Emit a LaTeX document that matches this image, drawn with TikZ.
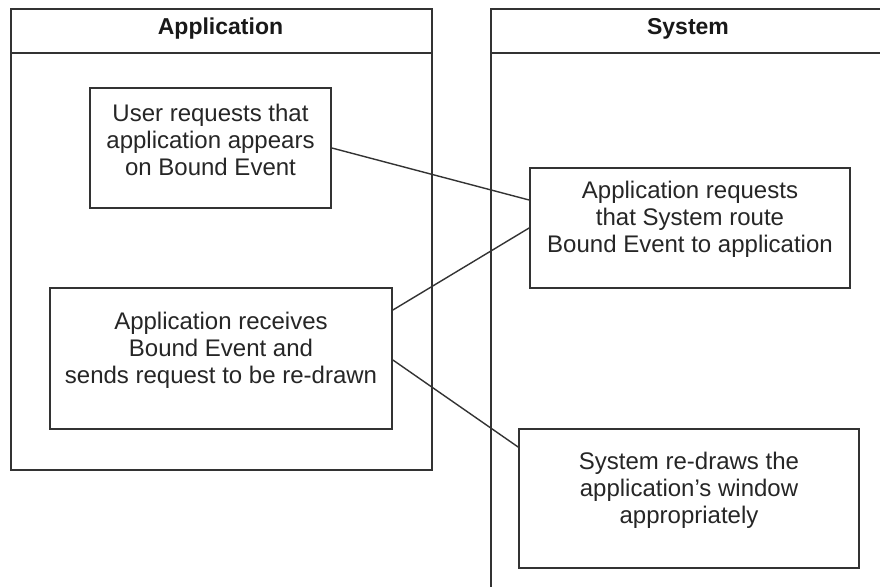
\documentclass[tikz,border=0pt]{standalone}
\usepackage{fontspec}
\setmainfont{Liberation Sans}
\begin{document}
\begin{tikzpicture}[x=1pt,y=-1pt,
  lane/.style={draw=black!80,line width=1.8pt,rectangle,inner sep=0pt,anchor=north west},
  lanetitle/.style={font=\fontsize{23}{27}\selectfont\bfseries,text=black!90},
  task/.style={draw=black!80,line width=1.8pt,rectangle,inner sep=0pt},
  tasktext/.style={font=\fontsize{24}{27}\selectfont,text=black!85,align=center,inner sep=0pt},
  link/.style={draw=black!80,line width=1.4pt}]
\useasboundingbox (0,0) rectangle (880,586);
\fill[white] (0,0) rectangle (880,586);
\clip (0,0) rectangle (880,586);

% swimlanes
\node[lane,minimum width=421pt,minimum height=461pt] (app) at (10,8) {};
\draw[link,line width=1.8pt] (app.west |- 0,53) -- (app.east |- 0,53);
\node[lanetitle] (apptitle) at (220.5,28.5) {Application};

\node[lane,minimum width=396pt,minimum height=620pt] (sys) at (490,8) {};
\draw[link,line width=1.8pt] (sys.west |- 0,53) -- (sys.east |- 0,53);
\node[lanetitle] (systitle) at (688,28.5) {System};

% activities
\node[task,minimum width=241pt,minimum height=120pt] (u1) at (210.5,148) {};
\node[tasktext] (u1t) at (210.5,140) {User requests that\\application appears\\on Bound Event};

\node[task,minimum width=342pt,minimum height=141pt] (u2) at (221,358.5) {};
\node[tasktext] (u2t) at (221,350) {Application receives\\Bound Event and\\sends request to be re-drawn};

\node[task,minimum width=320pt,minimum height=120pt] (s1) at (690,228) {};
\node[tasktext] (s1t) at (690,219) {Application requests\\that System route\\Bound Event to application};

\node[task,minimum width=340pt,minimum height=139pt] (s2) at (689,498.5) {};
\node[tasktext] (s2t) at (689,490) {System re-draws the\\application's window\\appropriately};

% connectors
\draw[link] (u1.east) -- ([yshift=28pt]s1.west);
\draw[link] ([yshift=48.5pt]u2.east) -- (s1.west);
\draw[link] ([yshift=-1.5pt]u2.east) -- ([yshift=51.5pt]s2.west);
\end{tikzpicture}
\end{document}
